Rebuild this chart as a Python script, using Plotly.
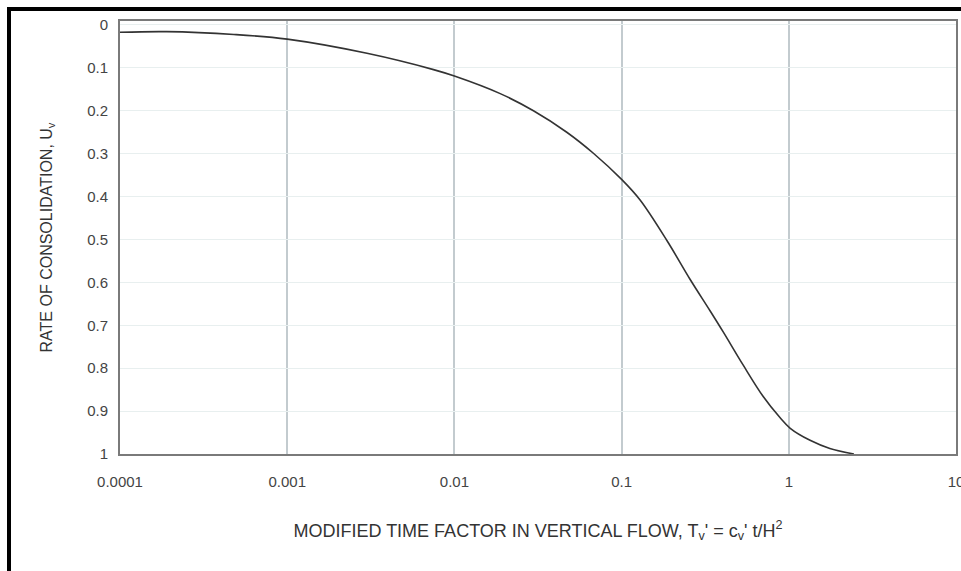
import plotly.graph_objects as go

# Data
time_factor = [0.0001, 0.00019, 0.00048, 0.001, 0.003, 0.0075, 0.01, 0.0188, 0.0297,
               0.047, 0.0678, 0.1, 0.129, 0.187, 0.256, 0.338, 0.406, 0.534, 0.703,
               0.885, 1.02, 1.34, 1.76, 2.45]
consolidation = [0.017, 0.0155, 0.022, 0.033, 0.066, 0.104, 0.119, 0.16, 0.2,
                 0.25, 0.299, 0.36, 0.408, 0.503, 0.592, 0.666, 0.716, 0.793, 0.866,
                 0.915, 0.94, 0.968, 0.987, 1.0]

x_tick_vals = [0.0001, 0.001, 0.01, 0.1, 1, 10]
x_tick_text = ["0.0001", "0.001", "0.01", "0.1", "1", "10"]
y_tick_vals = [0, 0.1, 0.2, 0.3, 0.4, 0.5, 0.6, 0.7, 0.8, 0.9, 1.0]
y_tick_text = ["0", "0.1", "0.2", "0.3", "0.4", "0.5", "0.6", "0.7", "0.8", "0.9", "1"]

W, H = 961, 571
ML, MR, MT, MB = 120, 5, 21, 117
pw, ph = W - ML - MR, H - MT - MB

FONT = "Arial, Liberation Sans, Helvetica, sans-serif"

fig = go.Figure()
fig.add_trace(go.Scatter(
    x=time_factor, y=consolidation, mode="lines",
    line=dict(color="#333333", width=1.6, shape="spline", smoothing=1.0),
    hoverinfo="skip", showlegend=False,
))

def px_to_paper_x(px):
    return (px - ML) / pw

def px_to_paper_y(py):
    return (H - MB - py) / ph

# black frame lines (top and left)
fig.add_shape(type="line", xref="paper", yref="paper",
              x0=px_to_paper_x(7), x1=px_to_paper_x(970),
              y0=px_to_paper_y(9), y1=px_to_paper_y(9),
              line=dict(color="black", width=4))
fig.add_shape(type="line", xref="paper", yref="paper",
              x0=px_to_paper_x(9), x1=px_to_paper_x(9),
              y0=px_to_paper_y(7), y1=px_to_paper_y(571),
              line=dict(color="black", width=4))

fig.update_layout(
    width=W, height=H,
    margin=dict(l=ML, r=MR, t=MT, b=MB, autoexpand=False),
    paper_bgcolor="white", plot_bgcolor="white",
    font=dict(family=FONT, size=15, color="#444444"),
    xaxis=dict(
        type="log", range=[-4, 1],
        tickvals=x_tick_vals, ticktext=x_tick_text,
        showgrid=True, gridcolor="#c3cbcf", gridwidth=1.5,
        showline=True, linecolor="#7a7a7a", linewidth=2, mirror=True,
        ticks="", ticklabelstandoff=13, ticklabeloverflow="allow",
        tickfont=dict(size=15, color="#444444"),
        title=dict(text="MODIFIED TIME FACTOR IN VERTICAL FLOW, T<sub>v</sub>' = c<sub>v</sub>' t/H<sup>2</sup>",
                   font=dict(size=18, color="#333333"), standoff=35),
        zeroline=False,
    ),
    yaxis=dict(
        range=[1.0, -0.0093],
        tickvals=y_tick_vals, ticktext=y_tick_text,
        showgrid=True, gridcolor="#e8efef", gridwidth=1,
        showline=True, linecolor="#7a7a7a", linewidth=2, mirror=True,
        ticks="", ticklabelstandoff=7,
        tickfont=dict(size=15, color="#444444"),
        title=dict(text="RATE OF CONSOLIDATION, U<sub>v</sub>",
                   font=dict(size=16, color="#333333"), standoff=31),
        zeroline=False,
    ),
)

fig.write_html("out.html", config={"displayModeBar": False},
               post_script="document.body.style.margin='0';document.body.style.overflow='hidden';")
